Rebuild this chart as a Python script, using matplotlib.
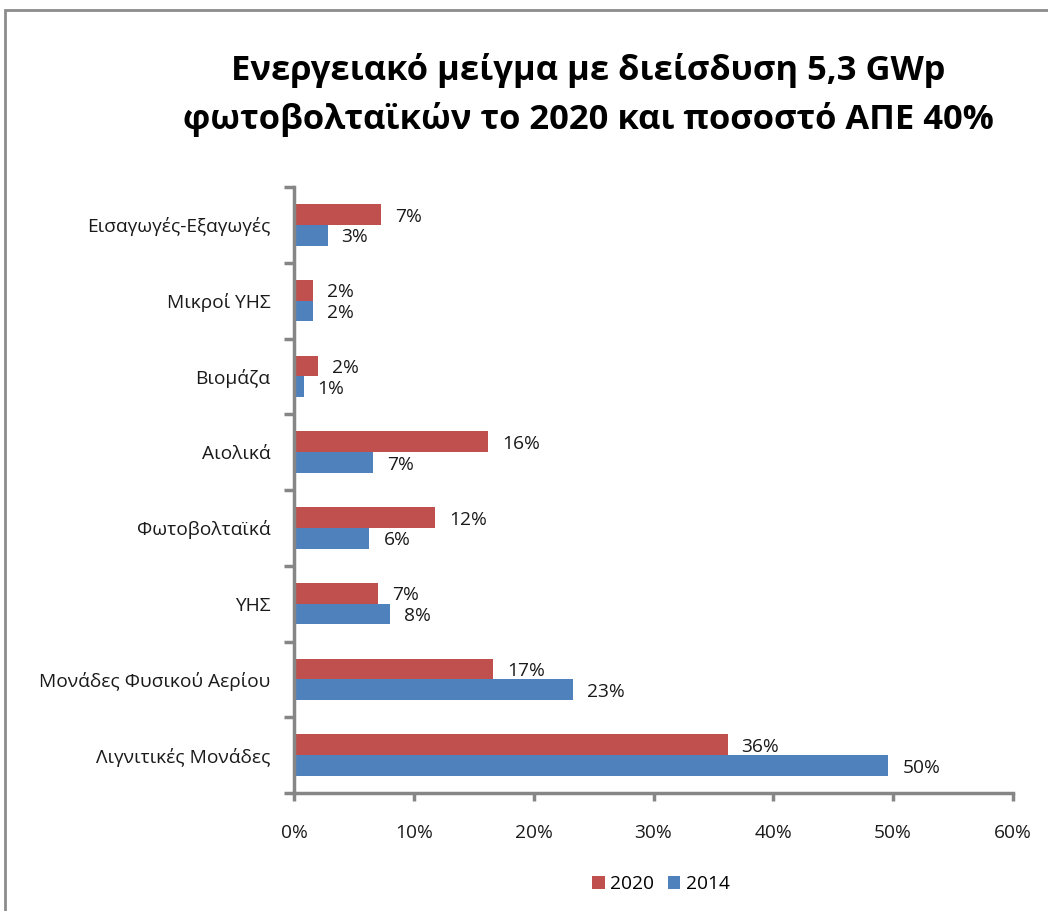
import matplotlib
matplotlib.use("Agg")
import matplotlib.pyplot as plt
import numpy as np
from matplotlib.patches import Rectangle

plt.rcParams['font.family'] = ['Open Sans', 'DejaVu Sans']

categories = ["Λιγνιτικές Μονάδες", "Μονάδες Φυσικού Αερίου", "ΥΗΣ", "Φωτοβολταϊκά",
              "Αιολικά", "Βιομάζα", "Μικροί ΥΗΣ", "Εισαγωγές-Εξαγωγές"]
values_2020 = [36.2, 16.6, 7.0, 11.8, 16.2, 2.0, 1.6, 7.3]
values_2014 = [49.6, 23.3, 8.0, 6.3, 6.6, 0.8, 1.6, 2.8]
series_names = ["2020", "2014"]
colors = ["#C0504D", "#4F81BD"]
title = "Ενεργειακό μείγμα με διείσδυση 5,3 GWp\nφωτοβολταϊκών το 2020 και ποσοστό ΑΠΕ 40%"

W, H = 1048, 911
fig = plt.figure(figsize=(W / 100, H / 100), dpi=100)
fig.patch.set_facecolor("white")

# outer chart frame
fig.add_artist(Rectangle((5 / W, -0.1), 1.2, 1 - 10 / H + 0.1, transform=fig.transFigure,
                         fill=False, edgecolor="#8C8C8C", linewidth=2))

ax = fig.add_axes([294 / W, 1 - 793 / H, (1013 - 294) / W, (793 - 187) / H])

y = np.arange(len(categories))
h = 0.275
axis_color = "#868686"
fs = 13.8
b20 = ax.barh(y + h / 2, values_2020, height=h, color=colors[0], label=series_names[0])
b14 = ax.barh(y - h / 2, values_2014, height=h, color=colors[1], label=series_names[1])

for bars, vals in ((b20, values_2020), (b14, values_2014)):
    for bar, v in zip(bars, vals):
        ax.annotate(f"{round(v):d}%", (bar.get_width(), bar.get_y() + bar.get_height() / 2),
                    xytext=(10, -1.5), textcoords="offset points", va="center", ha="left",
                    fontsize=fs, color="#1a1a1a")

ax.set_xlim(0, 60)
ax.set_ylim(-0.5, len(categories) - 0.5)
ax.set_xticks(np.arange(0, 61, 10))
ax.set_xticklabels([f"{t}%" for t in range(0, 61, 10)], fontsize=fs, color="#1a1a1a")
ax.set_yticks(y)
ax.set_yticklabels(categories, fontsize=fs, color="#1a1a1a")
ax.tick_params(axis="y", length=0, pad=17)
ax.tick_params(axis="x", length=6, width=2.5, color=axis_color, direction="out", pad=16)
# category boundary ticks on y axis
ax.set_yticks(np.arange(-0.5, len(categories), 1), minor=True)
ax.tick_params(axis="y", which="minor", length=7, width=2.5, color=axis_color, direction="out")

for s in ["top", "right"]:
    ax.spines[s].set_visible(False)
for s in ["left", "bottom"]:
    ax.spines[s].set_color(axis_color)
    ax.spines[s].set_linewidth(2.5)

fig.text(588 / W, 1 - 95 / H, title, ha="center", va="center", fontsize=24.8,
         fontweight="bold", linespacing=1.5, color="#000000")

leg = fig.legend(handles=[b20, b14], labels=series_names, loc="center",
                 bbox_to_anchor=(661 / W, 1 - 884 / H), ncol=2, frameon=False,
                 fontsize=fs, handlelength=0.65, handleheight=0.65, handletextpad=0.3,
                 columnspacing=0.7)

fig.savefig("out.png", dpi=100, facecolor="white")
